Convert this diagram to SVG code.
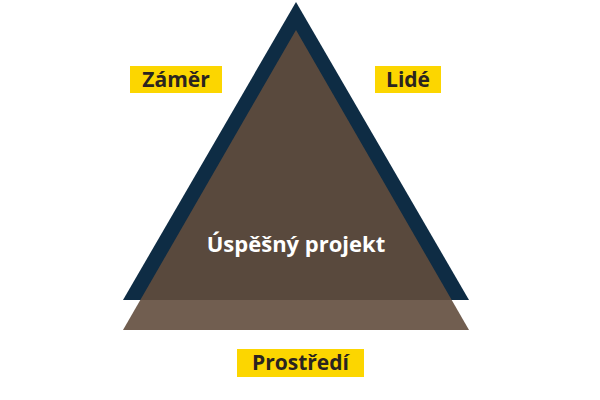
<svg xmlns="http://www.w3.org/2000/svg" width="600" height="400" viewBox="0 0 600 400">
<style>
.lbl{font-family:"Open Sans","Liberation Sans",sans-serif;font-weight:bold;font-size:21px;fill:#2a2420;text-anchor:middle}
.bg{fill:#fcd600}
</style>
<rect width="600" height="400" fill="#fff"/>
<g id="triangles">
<polygon points="296,2 123,300 469,300" fill="#0e2c44"/>
<polygon points="296,30 123,330 469,330" fill="#624d3d" fill-opacity="0.9"/>
</g>
<g id="center"><text x="296" y="252" font-family="Open Sans, Liberation Sans, sans-serif" font-weight="bold" font-size="22" fill="#fff" text-anchor="middle">Úspěšný projekt</text></g>
<g id="zamer"><rect class="bg" x="130" y="66" width="92" height="27"/><text class="lbl" x="176" y="87">Záměr</text></g>
<g id="lide"><rect class="bg" x="375" y="66" width="66" height="27"/><text class="lbl" x="408" y="87">Lidé</text></g>
<g id="prostredi"><rect class="bg" x="237" y="349" width="127" height="28"/><text class="lbl" x="300.5" y="370">Prostředí</text></g>
<g id="connectors"/>
</svg>
